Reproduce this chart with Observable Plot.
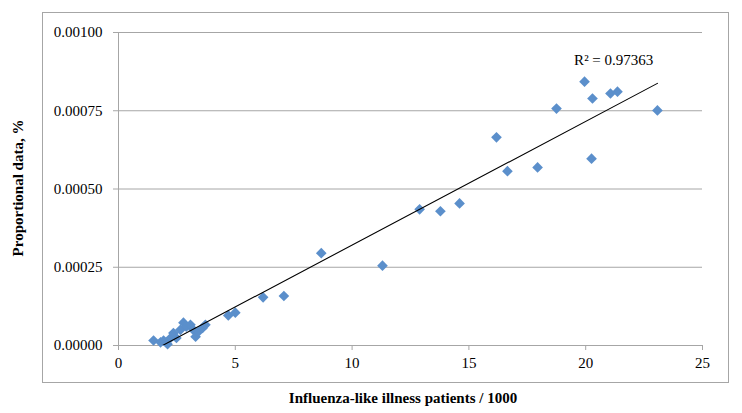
<!DOCTYPE html>
<html>
<head>
<meta charset="utf-8">
<script src="https://cdn.jsdelivr.net/npm/d3@7"></script>
<script src="https://cdn.jsdelivr.net/npm/@observablehq/plot@0.6"></script>
<style>
  html, body { margin: 0; padding: 0; background: #fff; }
  #chart { width: 742px; height: 413px; }
  #chart svg text { font-family: "Liberation Serif", "Times New Roman", serif !important; }
</style>
</head>
<body>
<div id="chart"></div>
<script>
// Influenza-like illness patients / 1000
const xValues = [
  1.5, 1.8, 1.93, 2.1, 2.23, 2.35, 2.48, 2.65, 2.78, 2.9, 3.08, 3.2, 3.3, 3.42, 3.6, 3.72,
  4.7, 5.0, 6.19, 7.08, 8.68, 11.3, 12.89, 13.78, 14.6, 16.18, 16.65, 17.94,
  18.75, 19.95, 20.25, 20.29, 21.06, 21.36, 23.07
];
// Proportional data, %
const yValues = [
  0.000016, 0.000010, 0.000016, 0.000004, 0.000024, 0.000040, 0.000024, 0.000050, 0.000073, 0.000060, 0.000066, 0.000050, 0.000028, 0.000044, 0.000056, 0.000066,
  0.000096, 0.000105, 0.000154, 0.000158, 0.000295, 0.000255, 0.000435, 0.000429, 0.000454, 0.000665, 0.000557, 0.000569,
  0.000757, 0.000843, 0.000597, 0.000789, 0.000805, 0.000811, 0.000751
];
const xTicks = [0, 5, 10, 15, 20, 25];
const yTicks = [0, 0.00025, 0.0005, 0.00075, 0.001];
const r2Label = ["R\u00B2 = 0.97363"];
const r2Pos = {x: 21.2, y: 0.000912};

const data = xValues.map((x, i) => ({x, y: yValues[i]}));

const FONT = "Liberation Serif";
const W = 742, H = 413;
const plot = Plot.plot({
  width: W,
  height: H,
  marginLeft: 118,
  marginRight: 40,
  marginTop: 32,
  marginBottom: 68,
  style: {fontFamily: FONT, fontSize: "15px", color: "#000", background: "#fff"},
  x: {domain: [0, 25], ticks: xTicks, label: null},
  y: {domain: [0, 0.001], ticks: yTicks, label: null, tickFormat: d3.format(".5f")},
  marks: [
    Plot.gridY(yTicks, {stroke: "#a6a6a6", strokeOpacity: 1, strokeWidth: 1}),
    Plot.ruleX([0], {stroke: "#a6a6a6", strokeWidth: 1}),
    Plot.ruleY([0], {stroke: "#a6a6a6", strokeWidth: 1}),
    Plot.axisX({ticks: xTicks, tickSize: 5, tickPadding: 7, stroke: "#a6a6a6", fill: "#000", fontSize: 15, fontFamily: FONT, label: null}),
    Plot.axisY({ticks: yTicks, tickSize: 5, tickPadding: 11, stroke: "#a6a6a6", fill: "#000", fontSize: 15, fontFamily: FONT, label: null, tickFormat: d3.format(".5f")}),
    Plot.dot(data, {x: "x", y: "y", symbol: "diamond2", r: 4.8, fill: "#5b8fcb", stroke: "none"}),
    Plot.linearRegressionY(data, {x: "x", y: "y", ci: 0, stroke: "#000", strokeWidth: 1.1, clip: true}),
    Plot.text(r2Label, {x: () => r2Pos.x, y: () => r2Pos.y, text: d => d, fontSize: 15, fontFamily: FONT, fill: "#000"})
  ]
});

const svg = d3.select(plot);
// outer chart-area frame
svg.insert("rect", ":first-child")
  .attr("x", 42.5).attr("y", 12.5).attr("width", 686).attr("height", 370)
  .attr("fill", "none").attr("stroke", "#a6a6a6").attr("stroke-width", 1);
// axis titles
svg.append("text")
  .attr("x", 403).attr("y", 403)
  .attr("text-anchor", "middle")
  .attr("font-family", FONT)
  .attr("font-weight", "bold").attr("font-size", 15)
  .attr("fill", "#000")
  .text("Influenza-like illness patients / 1000");
svg.append("text")
  .attr("transform", "translate(23,188) rotate(-90)")
  .attr("text-anchor", "middle")
  .attr("font-family", FONT)
  .attr("font-weight", "bold").attr("font-size", 15)
  .attr("fill", "#000")
  .text("Proportional data, %");

document.getElementById("chart").appendChild(plot);
</script>
</body>
</html>
